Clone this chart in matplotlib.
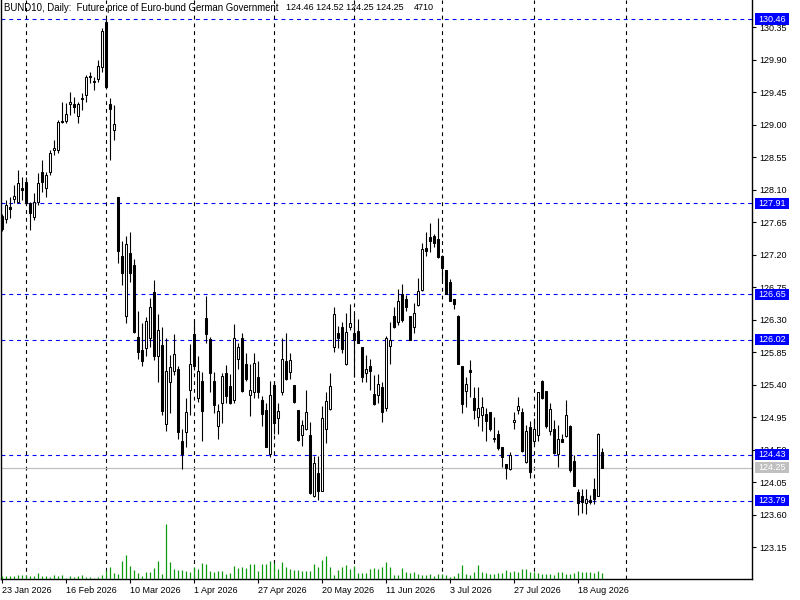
import matplotlib
matplotlib.use("Agg")
import matplotlib.pyplot as plt
import matplotlib.transforms as mtransforms
from matplotlib.patches import Rectangle

plt.rcParams['font.family'] = ['Liberation Sans', 'DejaVu Sans']

symbol_title = "BUND10, Daily:  Future price of Euro-bund German Government"
last_ohlc_text = "124.46 124.52 124.25 124.25"
last_volume_text = "4710"

opens = [127.73, 127.69, 127.86, 127.97, 127.93, 128.12, 128.20, 127.91, 127.72, 127.93,
         128.34, 128.12, 128.34, 128.65, 128.65, 129.05, 129.05, 129.28, 129.28, 129.12,
         129.37, 129.41, 129.67, 129.60, 129.63, 129.80, 130.42, 129.28, 128.92, 128.00,
         127.18, 126.35, 127.22, 127.055, 126.06, 125.88, 125.90, 126.05, 126.68, 125.80,
         125.95, 124.85, 125.43, 125.59, 125.62, 124.62, 124.74, 125.33, 126.10, 125.22,
         125.45, 126.325, 126.025, 125.45, 124.82, 125.14, 125.555, 125.38, 125.185, 125.75,
         126.04, 125.69, 125.26, 125.30, 125.51, 125.185, 125.05, 124.44, 125.40, 124.94,
         125.30, 125.73, 125.58, 125.39, 125.05, 124.70, 124.79, 124.70, 123.85, 124.17,
         123.93, 124.78, 125.06, 125.92, 126.12, 126.20, 125.69, 126.20, 126.12, 126.14,
         125.92, 125.56, 125.65, 125.27, 125.25, 125.36, 125.07, 125.94, 126.35, 126.27,
         126.66, 126.58, 126.35, 126.19, 126.50, 126.71, 127.29, 127.44, 127.46, 127.41,
         127.18, 126.98, 126.82, 126.59, 126.35, 125.66, 125.31, 125.60, 125.22, 124.95,
         124.98, 124.99, 125.02, 124.66, 124.71, 124.54, 124.30, 124.23, 124.88, 125.05,
         125.02, 124.33, 124.81, 124.62, 124.70, 125.45, 125.31, 124.76, 124.78, 124.44,
         124.65, 124.69, 124.825, 124.345, 123.91, 123.86, 123.76, 123.80, 123.96, 123.86,
         124.46]
highs = [127.76, 127.95, 127.99, 128.16, 128.37, 128.27, 128.27, 127.93, 128.05, 128.33,
         128.51, 128.34, 128.65, 128.79, 129.06, 129.31, 129.30, 129.45, 129.38, 129.31,
         129.44, 129.69, 129.73, 129.66, 129.89, 130.34, 130.46, 129.37, 129.27, 128.00,
         127.39, 127.46, 127.51, 127.14, 126.42, 126.25, 126.34, 126.60, 126.85, 126.38,
         126.20, 126.04, 125.81, 126.10, 125.66, 124.78, 125.22, 125.96, 126.29, 125.79,
         125.58, 126.63, 126.06, 125.58, 125.13, 125.555, 125.67, 125.54, 126.24, 125.97,
         126.12, 125.83, 125.69, 125.83, 125.72, 125.24, 125.15, 125.45, 125.45, 125.15,
         126.04, 126.12, 125.83, 125.39, 125.05, 124.91, 125.33, 124.88, 124.41, 124.41,
         125.10, 125.30, 125.56, 126.48, 126.21, 126.27, 126.39, 126.52, 126.38, 126.31,
         125.92, 125.81, 125.75, 125.53, 125.55, 125.44, 126.07, 126.27, 126.48, 126.72,
         126.79, 126.64, 126.35, 126.53, 126.88, 127.36, 127.51, 127.63, 127.49, 127.71,
         127.20, 126.99, 126.86, 126.59, 126.36, 125.66, 125.51, 125.74, 125.37, 125.36,
         125.23, 125.08, 125.02, 124.95, 124.77, 124.54, 124.30, 124.47, 125.02, 125.23,
         125.07, 124.84, 124.89, 124.94, 125.30, 125.46, 125.31, 125.14, 124.91, 124.84,
         124.72, 125.19, 124.84, 124.42, 123.96, 123.96, 123.96, 123.87, 124.10, 124.73,
         124.52]
lows = [127.52, 127.64, 127.70, 127.91, 127.91, 127.95, 127.88, 127.54, 127.68, 127.89,
        128.07, 127.99, 128.30, 128.58, 128.60, 129.02, 129.02, 129.13, 129.16, 129.02,
        129.20, 129.31, 129.57, 129.48, 129.59, 129.73, 129.52, 128.51, 128.79, 127.08,
        126.78, 126.25, 126.82, 126.11, 125.76, 125.66, 125.80, 125.92, 125.74, 125.44,
        124.98, 124.76, 125.01, 125.53, 124.65, 124.23, 124.54, 124.98, 125.60, 125.16,
        124.62, 125.98, 125.30, 125.00, 124.65, 124.87, 125.14, 125.13, 125.15, 125.62,
        125.30, 125.45, 124.97, 125.22, 125.21, 124.83, 124.54, 124.40, 124.72, 124.72,
        125.25, 125.46, 125.48, 125.15, 124.62, 124.55, 124.77, 123.89, 123.84, 123.80,
        123.92, 124.59, 125.05, 125.85, 125.90, 125.83, 125.67, 126.15, 125.51, 125.97,
        125.44, 125.44, 125.32, 125.12, 125.14, 124.88, 125.04, 125.68, 126.18, 126.22,
        126.27, 126.42, 126.01, 126.12, 126.49, 126.70, 127.18, 127.23, 127.31, 127.15,
        126.85, 126.65, 126.55, 126.44, 125.69, 125.01, 125.09, 125.23, 124.92, 124.82,
        124.76, 124.62, 124.76, 124.61, 124.50, 124.26, 124.09, 124.22, 124.78, 124.99,
        124.47, 124.31, 124.10, 124.56, 124.62, 125.20, 124.80, 124.70, 124.44, 124.26,
        124.60, 124.68, 124.19, 123.99, 123.59, 123.62, 123.61, 123.75, 123.75, 123.85,
        124.25]
closes = [127.55, 127.885, 127.83, 128.01, 128.19, 128.09, 127.91, 127.77, 127.93, 128.19,
          128.20, 128.30, 128.60, 128.67, 129.03, 129.04, 129.15, 129.31, 129.24, 129.28,
          129.35, 129.66, 129.66, 129.59, 129.81, 130.29, 129.52, 129.21, 129.01, 127.25,
          126.95, 127.35, 126.95, 126.13, 125.855, 125.73, 126.28, 126.47, 125.80, 126.16,
          125.04, 125.59, 125.64, 125.82, 124.74, 124.44, 125.015, 125.69, 125.66, 125.59,
          125.04, 126.10, 125.56, 125.11, 125.03, 125.52, 125.24, 125.15, 126.04, 125.915,
          125.31, 125.48, 125.33, 125.70, 125.30, 124.99, 124.54, 125.255, 124.87, 125.03,
          125.75, 125.48, 125.74, 125.16, 124.63, 124.84, 125.02, 123.90, 124.32, 123.93,
          124.93, 125.17, 125.38, 126.37, 126.04, 125.89, 126.13, 126.25, 126.02, 125.98,
          125.51, 125.62, 125.59, 125.13, 125.41, 125.02, 126.05, 126.02, 126.19, 126.56,
          126.29, 126.47, 126.02, 126.39, 126.69, 127.27, 127.25, 127.39, 127.36, 127.16,
          127.02, 126.65, 126.56, 126.51, 125.69, 125.13, 125.41, 125.58, 125.05, 125.07,
          125.09, 124.90, 124.79, 124.65, 124.52, 124.40, 124.25, 124.42, 124.91, 125.10,
          124.48, 124.76, 124.19, 124.78, 125.29, 125.22, 124.82, 125.06, 124.45, 124.65,
          124.61, 124.98, 124.21, 124.00, 123.76, 123.78, 123.82, 123.78, 123.82, 124.71,
          124.25]
volumes = [2400, 2400, 2400, 2400, 3300, 3000, 3000, 2400, 2400, 4800,
           2400, 2400, 1500, 3300, 2400, 3300, 900, 2400, 1500, 2400,
           3300, 1500, 1500, 900, 1500, 3300, 6900, 9300, 4800, 4200,
           13800, 18300, 10200, 6600, 4800, 2100, 5100, 5100, 8700, 13800,
           3900, 42600, 12900, 7800, 6600, 6900, 6300, 5400, 9000, 7500,
           12600, 11700, 6000, 5400, 6300, 6300, 3900, 4500, 9900, 8700,
           9000, 8400, 11400, 11400, 6000, 11400, 11400, 13800, 12000, 7800,
           12900, 9600, 7500, 6600, 6900, 6300, 6000, 6000, 11400, 9000,
           14700, 18000, 9600, 3300, 6900, 9000, 10500, 7800, 9900, 4800,
           4800, 4800, 7800, 8700, 7800, 9300, 13200, 9600, 3300, 3300,
           8700, 5100, 4800, 5100, 3900, 3300, 3300, 4200, 2400, 4200,
           3600, 3300, 1500, 2400, 4500, 10800, 3600, 3300, 5100, 10500,
           5100, 4500, 3600, 3900, 4800, 4500, 6900, 5700, 6300, 5400,
           7800, 7800, 5400, 5100, 4500, 3900, 3900, 3900, 3300, 5100,
           5400, 4200, 3900, 4500, 6000, 5700, 5400, 5100, 4500, 6000,
           4710]

tick_bars = [0, 16, 32, 48, 64, 80, 96, 112, 128, 144]
tick_labels = ['23 Jan 2026', '16 Feb 2026', '10 Mar 2026', '1 Apr 2026', '27 Apr 2026',
               '20 May 2026', '11 Jun 2026', '3 Jul 2026', '27 Jul 2026', '18 Aug 2026']
month_start_bars = [6, 26, 48, 68, 88, 110, 133, 156]
price_ticks = [123.15, 123.60, 124.05, 124.50, 124.95, 125.40, 125.85, 126.30, 126.75,
               127.20, 127.65, 128.10, 128.55, 129.00, 129.45, 129.90, 130.35]
level_lines = [130.46, 127.91, 126.65, 126.02, 124.43, 123.79]
bid_price = 124.25

W, H = 800, 600
fig = plt.figure(figsize=(8, 6), dpi=100)
fig.patch.set_facecolor('white')
ax = fig.add_axes([1 / W, 21 / H, 751 / W, 579 / H])
ax.set_facecolor('white')

ax.set_xlim(-0.25, 187.5)
ax.set_ylim(122.707, 130.724)

# grid (month starts)
for b in month_start_bars:
    ax.axvline(b, color='black', lw=0.8, ls=(0, (3.5, 3.5)), zorder=1)
# user levels
for lv in level_lines:
    ax.axhline(lv, color='#0000ff', lw=0.8, ls=(0, (3.5, 3.5)), zorder=1.2)
ax.axhline(bid_price, color='#c0c0c0', lw=0.9, zorder=1.1)

# candles
xs = list(range(len(opens)))
ax.vlines(xs, lows, highs, color='black', lw=0.8, zorder=2)
body_bottom = [min(o, c) for o, c in zip(opens, closes)]
body_height = [max(abs(c - o), 0.004) for o, c in zip(opens, closes)]
face = ['white' if c >= o else 'black' for o, c in zip(opens, closes)]
ax.bar(xs, body_height, bottom=body_bottom, width=0.55, color=face,
       edgecolor='black', linewidth=0.75, zorder=3)

# volumes
axv = ax.twinx()
axv.set_ylim(0, max(volumes) / 0.0954)
axv.vlines(xs, 0, volumes, color='#0e9a0e', lw=0.9, zorder=2)
axv.yaxis.set_visible(False)
for s in axv.spines.values():
    s.set_visible(False)
axv.patch.set_visible(False)

# axes styling
for name, s in ax.spines.items():
    s.set_color('black')
    s.set_linewidth(1.0)
ax.spines['top'].set_visible(False)

ax.yaxis.tick_right()
ax.set_yticks(price_ticks)
ax.set_yticklabels([f"{p:.2f}" for p in price_ticks])
ax.tick_params(axis='y', direction='out', length=3, width=0.8, pad=2,
               labelsize=6.5, colors='black')
ax.set_xticks(tick_bars)
ax.set_xticklabels(tick_labels)
ax.tick_params(axis='x', direction='out', length=3, width=0.8, pad=2,
               labelsize=6.5, colors='black')
for lbl in ax.get_xticklabels():
    lbl.set_ha('left')

# price labels on right axis
trans = mtransforms.blended_transform_factory(ax.transAxes, ax.transData)
x0 = (755 - 1) / 751
bw = 34 / 751
hh = 5.6 / 72.17
for lv in level_lines:
    ax.add_patch(Rectangle((x0, lv - hh), bw, 2 * hh, transform=trans,
                           facecolor='#0000ff', edgecolor='none', clip_on=False, zorder=6))
    ax.text(x0 + 3 / 751, lv, f"{lv:.2f}", transform=trans, color='white',
            fontsize=6.5, va='center', ha='left', zorder=7, clip_on=False)
ax.add_patch(Rectangle((x0, bid_price - hh), bw, 2 * hh, transform=trans,
                       facecolor='#c0c0c0', edgecolor='none', clip_on=False, zorder=6))
ax.text(x0 + 3 / 751, bid_price, f"{bid_price:.2f}", transform=trans, color='white',
        fontsize=6.5, va='center', ha='left', zorder=7, clip_on=False)

# header
fig.text(4 / W, 1 - 3 / H, symbol_title, fontsize=6.9, va='top', ha='left')
fig.text(286 / W, 1 - 3 / H, last_ohlc_text, fontsize=6.5, va='top', ha='left')
fig.text(414 / W, 1 - 3 / H, last_volume_text, fontsize=6.5, va='top', ha='left')

fig.savefig('out.png', dpi=100, facecolor='white')
